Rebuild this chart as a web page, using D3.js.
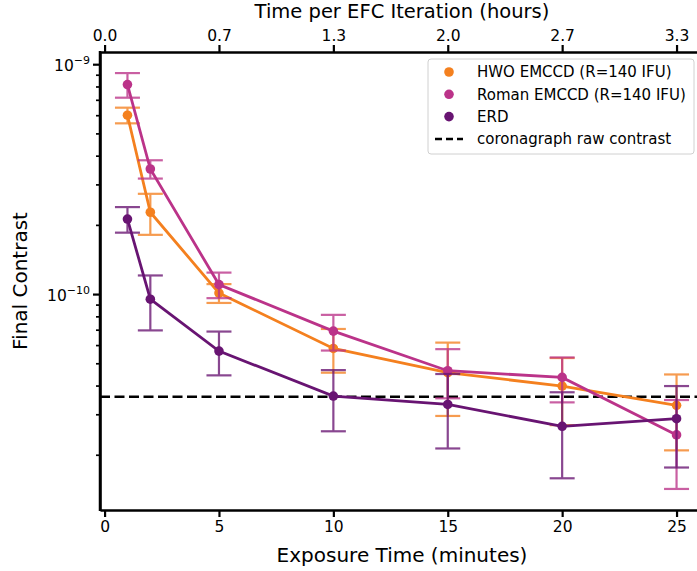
<!DOCTYPE html>
<html>
<head>
<meta charset="utf-8" />
<title>Final contrast vs exposure time</title>
<script src="https://d3js.org/d3.v7.min.js"></script>
<style>
  body { margin: 0; background: white; }
  text { font-family: "DejaVu Sans", sans-serif; fill: black; }
</style>
</head>
<body>
<svg id="chart" width="697" height="571"></svg>
<script>
// exposure times (minutes)
var exposure = [1, 2, 5, 10, 15, 20, 25];
var xTicks = [0, 5, 10, 15, 20, 25];

// final contrast and 1-sigma errors
var hwoValues  = [6.0e-10, 2.27e-10, 1.01e-10, 5.8e-11, 4.55e-11, 3.98e-11, 3.28e-11];
var hwoErrors  = [0.47e-10, 0.46e-10, 0.095e-10, 1.25e-11, 1.6e-11, 1.29e-11, 1.19e-11];
var romanValues = [8.15e-10, 3.5e-10, 1.10e-10, 6.9e-11, 4.64e-11, 4.34e-11, 2.44e-11];
var romanErrors = [1.0e-10, 0.32e-10, 0.14e-10, 1.22e-11, 1.12e-11, 0.96e-11, 1.02e-11];
var erdValues  = [2.12e-10, 9.5e-11, 5.65e-11, 3.6e-11, 3.31e-11, 2.66e-11, 2.87e-11];
var erdErrors  = [0.27e-10, 2.55e-11, 1.22e-11, 1.07e-11, 1.18e-11, 1.08e-11, 1.11e-11];

var rawContrast = 3.58e-11;
var seriesNames = ["HWO EMCCD (R=140 IFU)", "Roman EMCCD (R=140 IFU)", "ERD"];
var colors = ["#f4801f", "#bb3389", "#681472"];

var svg = d3.select("#chart");
var plotLeft = 100, plotRight = 704, plotTop = 52, plotBottom = 510;

var x = d3.scaleLinear().domain([-0.2, 26.2]).range([plotLeft, plotRight]);
var y = d3.scaleLog().domain([1.15e-11, 1.13e-9]).range([plotBottom, plotTop]);

// dashed raw contrast line
svg.append("line")
    .attr("x1", plotLeft).attr("x2", plotRight)
    .attr("y1", y(rawContrast)).attr("y2", y(rawContrast))
    .attr("stroke", "black").attr("stroke-width", 2.5)
    .attr("stroke-dasharray", "10,4.5");

var allSeries = [
    {name: seriesNames[0], values: hwoValues, errors: hwoErrors, color: colors[0]},
    {name: seriesNames[1], values: romanValues, errors: romanErrors, color: colors[1]},
    {name: seriesNames[2], values: erdValues, errors: erdErrors, color: colors[2]}
];

var line = d3.line()
    .x(function(d) { return x(d.t); })
    .y(function(d) { return y(d.v); });

allSeries.forEach(function(s) {
    var pts = exposure.map(function(t, i) {
        return {t: t, v: s.values[i], e: s.errors[i]};
    });
    var g = svg.append("g");

    // error bars
    var eb = g.selectAll(".eb").data(pts).enter().append("g")
        .attr("stroke", s.color).attr("stroke-width", 2.2).attr("opacity", 0.78);
    eb.append("line")
        .attr("x1", function(d) { return x(d.t); })
        .attr("x2", function(d) { return x(d.t); })
        .attr("y1", function(d) { return y(d.v + d.e); })
        .attr("y2", function(d) { return y(d.v - d.e); });
    [1, -1].forEach(function(sign) {
        eb.append("line")
            .attr("x1", function(d) { return x(d.t) - 12.5; })
            .attr("x2", function(d) { return x(d.t) + 12.5; })
            .attr("y1", function(d) { return y(d.v + sign * d.e); })
            .attr("y2", function(d) { return y(d.v + sign * d.e); });
    });

    g.append("path").datum(pts)
        .attr("d", line)
        .attr("fill", "none")
        .attr("stroke", s.color)
        .attr("stroke-width", 2.8);

    g.selectAll("circle").data(pts).enter().append("circle")
        .attr("cx", function(d) { return x(d.t); })
        .attr("cy", function(d) { return y(d.v); })
        .attr("r", 4.8)
        .attr("fill", s.color);
});

// axes
function styleAxis(g) {
    g.selectAll(".domain").attr("stroke-width", 2.5);
    g.selectAll(".tick line").attr("stroke-width", 2.2);
    g.selectAll(".tick text").attr("font-size", 15.5).attr("font-family", "DejaVu Sans");
}

var xAxis = svg.append("g")
    .attr("transform", "translate(0," + plotBottom + ")")
    .call(d3.axisBottom(x).tickValues(xTicks).tickSize(7).tickSizeOuter(0).tickPadding(4));
styleAxis(xAxis);

var topAxis = svg.append("g")
    .attr("transform", "translate(0," + plotTop + ")")
    .call(d3.axisTop(x).tickValues(xTicks).tickSize(7).tickSizeOuter(0).tickPadding(4)
        .tickFormat(function(t) { return (t * 8 / 60).toFixed(1); }));
styleAxis(topAxis);

// log y axis: major + minor ticks
var minorTicks = [];
[1e-11, 1e-10, 1e-9].forEach(function(base) {
    for (var k = 2; k <= 9; k++) {
        var v = base * k;
        if (v > y.domain()[0] && v < y.domain()[1]) minorTicks.push(v);
    }
});
var yMinor = svg.append("g")
    .attr("transform", "translate(" + plotLeft + ",0)")
    .call(d3.axisLeft(y).tickValues(minorTicks).tickSize(4).tickFormat(""));
yMinor.selectAll(".domain").remove();
yMinor.selectAll(".tick line").attr("stroke-width", 1.7);

var majorTicks = [1e-10, 1e-9];
var yAxis = svg.append("g")
    .attr("transform", "translate(" + plotLeft + ",0)")
    .call(d3.axisLeft(y).tickValues(majorTicks).tickSize(7).tickSizeOuter(0).tickFormat(""));
styleAxis(yAxis);
yAxis.selectAll(".tick").append("text")
    .attr("x", -10).attr("dy", "0.4em")
    .attr("text-anchor", "end")
    .attr("font-size", 15.5)
    .attr("fill", "black")
    .each(function(d) {
        var t = d3.select(this);
        t.append("tspan").text("10");
        t.append("tspan").attr("dy", "-0.6em").attr("font-size", 11)
            .text("\u2212" + Math.round(-Math.log10(d)));
    });

// left spine
svg.append("line")
    .attr("x1", plotLeft).attr("x2", plotLeft).attr("y1", plotTop - 1).attr("y2", plotBottom + 1)
    .attr("stroke", "black").attr("stroke-width", 2.5);

// axis titles
svg.append("text")
    .attr("x", (plotLeft + plotRight) / 2).attr("y", 562)
    .attr("text-anchor", "middle").attr("font-size", 20)
    .text("Exposure Time (minutes)");
svg.append("text")
    .attr("x", (plotLeft + plotRight) / 2).attr("y", 18)
    .attr("text-anchor", "middle").attr("font-size", 19.5)
    .text("Time per EFC Iteration (hours)");
svg.append("text")
    .attr("transform", "translate(27," + ((plotTop + plotBottom) / 2) + ") rotate(-90)")
    .attr("text-anchor", "middle").attr("font-size", 20)
    .text("Final Contrast");

// legend
var legend = svg.append("g").attr("transform", "translate(428,59)");
legend.append("rect")
    .attr("width", 266).attr("height", 95).attr("rx", 3)
    .attr("fill", "white").attr("fill-opacity", 0.85)
    .attr("stroke", "#d0d0d0").attr("stroke-width", 1);
allSeries.forEach(function(s, i) {
    legend.append("circle")
        .attr("cx", 21).attr("cy", 13 + i * 22.3).attr("r", 4.8)
        .attr("fill", s.color);
    legend.append("text")
        .attr("x", 49).attr("y", 13 + i * 22.3).attr("dy", "0.35em")
        .attr("font-size", 15).text(s.name);
});
legend.append("line")
    .attr("x1", 7).attr("x2", 35).attr("y1", 80).attr("y2", 80)
    .attr("stroke", "black").attr("stroke-width", 2.5).attr("stroke-dasharray", "7,4");
legend.append("text")
    .attr("x", 49).attr("y", 80).attr("dy", "0.35em")
    .attr("font-size", 15).text("coronagraph raw contrast");
</script>
</body>
</html>
